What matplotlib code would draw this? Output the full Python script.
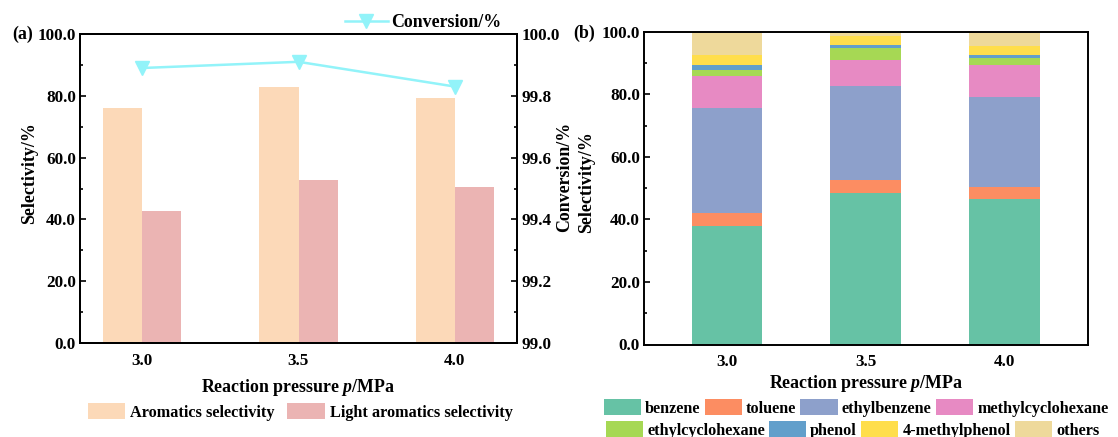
import matplotlib
matplotlib.use("Agg")
import matplotlib.pyplot as plt
from matplotlib.ticker import MultipleLocator, FormatStrFormatter
import numpy as np

plt.rcParams['font.family'] = ['Liberation Serif', 'DejaVu Serif']
plt.rcParams['font.weight'] = 'bold'
plt.rcParams['axes.labelweight'] = 'bold'
plt.rcParams['mathtext.fontset'] = 'custom'
plt.rcParams['mathtext.it'] = 'Liberation Serif:italic:bold'
plt.rcParams['mathtext.rm'] = 'Liberation Serif:bold'

# ---- data ----
pressures = ['3.0', '3.5', '4.0']
aromatics_sel = [76.0, 82.9, 79.4]
light_aromatics_sel = [42.6, 52.9, 50.6]
conversion = [99.89, 99.91, 99.83]

components = ['benzene', 'toluene', 'ethylbenzene', 'methylcyclohexane',
              'ethylcyclohexane', 'phenol', '4-methylphenol', 'others']
benzene = [37.9, 48.5, 46.4]
toluene = [4.2, 4.2, 3.9]
ethylbenzene = [33.6, 29.9, 28.7]
methylcyclohexane = [10.1, 8.2, 10.2]
ethylcyclohexane = [1.9, 4.1, 2.5]
phenol = [1.5, 1.0, 1.0]
methylphenol = [3.2, 2.8, 2.8]
others = [7.6, 1.3, 4.5]
comp_values = [benzene, toluene, ethylbenzene, methylcyclohexane,
               ethylcyclohexane, phenol, methylphenol, others]
comp_colors = ['#66C2A5', '#FC8D62', '#8DA0CB', '#E78AC3',
               '#A6D854', '#629FCB', '#FFDE4C', '#EED99B']

FS = 11.7     # legends
TFS = 12.3    # tick labels
LFS = 12.9    # axis titles
W, H = 1118, 437
fig = plt.figure(figsize=(W / 100, H / 100), dpi=100)


def style_axis(ax):
    for s in ax.spines.values():
        s.set_linewidth(1.4)
    ax.tick_params(axis='y', which='major', direction='in', length=4, width=1.2,
                   labelsize=TFS, pad=3)
    ax.tick_params(axis='y', which='minor', direction='in', length=2.5, width=1.2)
    ax.tick_params(axis='x', length=0, labelsize=TFS, pad=7)


# ---- (a) ----
ax1 = fig.add_axes([80 / W, 1 - 343 / H, (517 - 80) / W, (343 - 34) / H])
x = np.arange(len(pressures))
bw = 0.25
b1 = ax1.bar(x - bw / 2, aromatics_sel, bw, color='#FCD9B8', label='Aromatics selectivity')
b2 = ax1.bar(x + bw / 2, light_aromatics_sel, bw, color='#EBB4B3', label='Light aromatics selectivity')
ax1.set_xlim(-0.4, 2.4)
ax1.set_ylim(0, 100)
ax1.set_xticks(x)
ax1.set_xticklabels(pressures)
ax1.yaxis.set_major_locator(MultipleLocator(20))
ax1.yaxis.set_minor_locator(MultipleLocator(10))
ax1.yaxis.set_major_formatter(FormatStrFormatter('%.1f'))
style_axis(ax1)
ax1.set_ylabel('Selectivity/%', fontsize=LFS, va='center', ha='center')
ax1.yaxis.set_label_coords((30 - 80) / 437, (343 - 173) / 309)
ax1.set_xlabel('Reaction pressure $\\mathit{p}$/MPa', fontsize=LFS, va='center')
ax1.xaxis.set_label_coords(0.499, (343 - 388) / 309)

ax2 = ax1.twinx()
ln, = ax2.plot(x, conversion, color='#92F3F9', lw=1.8, marker='v', markersize=10,
               label='Conversion/%')
ax2.set_ylim(99.0, 100.0)
ax2.yaxis.set_major_locator(MultipleLocator(0.2))
ax2.yaxis.set_minor_locator(MultipleLocator(0.1))
ax2.yaxis.set_major_formatter(FormatStrFormatter('%.1f'))
style_axis(ax2)
ax2.set_ylabel('Conversion/%', fontsize=LFS, va='center', ha='center')
ax2.yaxis.set_label_coords((565 - 80) / 437, (343 - 177) / 309)

fig.text(12 / W, 1 - 34 / H, '(a)', fontsize=LFS, va='center', ha='left')

fig.legend(handles=[ln], loc='center', bbox_to_anchor=(423 / W, 1 - 22.7 / H),
           frameon=False, fontsize=LFS, handlelength=2.4, handletextpad=0.2,
           borderpad=0, borderaxespad=0)
fig.legend(handles=[b1, b2], loc='center', bbox_to_anchor=(300 / W, 1 - 412 / H),
           ncol=2, frameon=False, fontsize=FS, handlelength=2.3, handleheight=1.1,
           handletextpad=0.3, columnspacing=0.8, borderpad=0, borderaxespad=0)

# ---- (b) ----
ax3 = fig.add_axes([644 / W, 1 - 344.5 / H, (1087.5 - 644) / W, (344.5 - 31.7) / H])
bottom = np.zeros(len(pressures))
bars = []
for name, vals, col in zip(components, comp_values, comp_colors):
    b = ax3.bar(x, vals, 0.51, bottom=bottom, color=col, label=name)
    bars.append(b)
    bottom += np.array(vals)
ax3.set_xlim(-0.6, 2.6)
ax3.set_ylim(0, 100)
ax3.set_xticks(x)
ax3.set_xticklabels(pressures)
ax3.yaxis.set_major_locator(MultipleLocator(20))
ax3.yaxis.set_minor_locator(MultipleLocator(10))
ax3.yaxis.set_major_formatter(FormatStrFormatter('%.1f'))
style_axis(ax3)
ax3.set_ylabel('Selectivity/%', fontsize=LFS, va='center', ha='center')
ax3.yaxis.set_label_coords((587 - 644) / 443.5, (344.5 - 182) / 312.8)
ax3.set_xlabel('Reaction pressure $\\mathit{p}$/MPa', fontsize=LFS, va='center')
ax3.xaxis.set_label_coords(0.5, (344.5 - 384) / 312.8)

fig.text(573 / W, 1 - 33 / H, '(b)', fontsize=LFS, va='center', ha='left')

leg_kw = dict(loc='center', ncol=4, frameon=False, fontsize=FS, handlelength=2.3,
              handleheight=1.1, handletextpad=0.25, columnspacing=0.25,
              borderpad=0, borderaxespad=0)
fig.legend(handles=bars[:4], bbox_to_anchor=(856 / W, 1 - 408 / H), **leg_kw)
fig.legend(handles=bars[4:], bbox_to_anchor=(852.5 / W, 1 - 430 / H), **leg_kw)

fig.savefig('out.png', dpi=100)
